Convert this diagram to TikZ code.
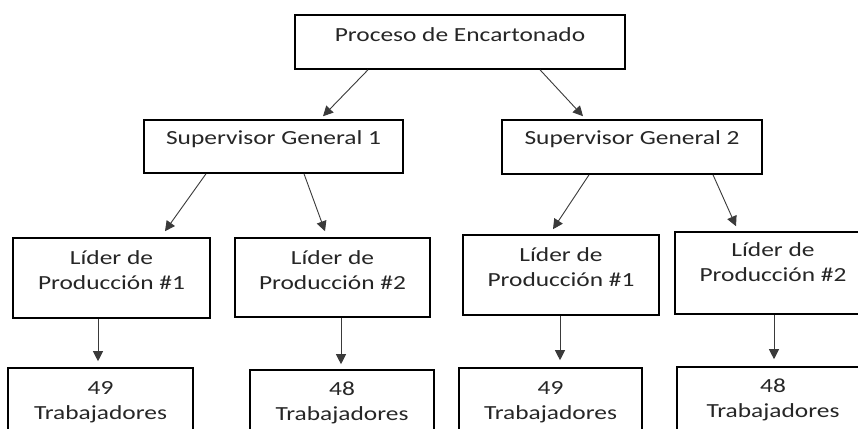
\documentclass[tikz,border=0pt]{standalone}
\usepackage{fontspec}
\setmainfont{Carlito}[FakeStretch=1.27]
\usetikzlibrary{arrows.meta}
\definecolor{txtgray}{HTML}{262626}
\definecolor{arrgray}{HTML}{3A3A3A}
\tikzset{
  box/.style={draw=black, line width=1.6pt, fill=white, inner sep=0pt},
  lbl/.style={anchor=north, inner sep=0pt, align=center, text=txtgray,
    font=\fontsize{20}{25.5}\selectfont},
  arr/.style={draw=arrgray, line width=0.9pt, -{Triangle[length=10pt,width=10pt]}}
}
\newcommand{\fst}{\rule{0pt}{16pt}}
\begin{document}
\begin{tikzpicture}[x=1pt,y=-1pt]
\useasboundingbox (0,0) rectangle (858,428);
\clip (0,0) rectangle (858,428);
\fill[white] (0,0) rectangle (858,428);
% boxes
\node[box, minimum width=330pt, minimum height=54pt] (top) at (460,42) {};
\node[box, minimum width=259pt, minimum height=53pt] (sup1) at (273.5,146.5) {};
\node[box, minimum width=260pt, minimum height=54pt] (sup2) at (632,147) {};
\node[box, minimum width=197pt, minimum height=80pt] (l1) at (111.5,278) {};
\node[box, minimum width=195pt, minimum height=79pt] (l2) at (332.5,277.5) {};
\node[box, minimum width=196pt, minimum height=80pt] (l3) at (561,275) {};
\node[box, minimum width=196pt, minimum height=82pt] (l4) at (773,273) {};
\node[box, minimum width=185pt, minimum height=80pt] (b1) at (100.5,408) {};
\node[box, minimum width=184pt, minimum height=80pt] (b2) at (342,410) {};
\node[box, minimum width=183pt, minimum height=80pt] (b3) at (550.5,408) {};
\node[box, minimum width=192pt, minimum height=80pt] (b4) at (773,407) {};
% texts
\node[lbl] (ttop) at ([yshift=-11pt]top.north) {\fst Proceso de Encartonado};
\node[lbl] (tsup1) at ([yshift=-9pt]sup1.north) {\fst Supervisor General 1};
\node[lbl] (tsup2) at ([yshift=-9pt]sup2.north) {\fst Supervisor General 2};
\node[lbl] (tl1) at ([yshift=-11pt]l1.north) {\fst Líder de\\Producción \#1};
\node[lbl] (tl2) at ([yshift=-11pt]l2.north) {\fst Líder de\\Producción \#2};
\node[lbl] (tl3) at ([yshift=-11pt]l3.north) {\fst Líder de\\Producción \#1};
\node[lbl] (tl4) at ([yshift=-9pt]l4.north) {\fst Líder de\\Producción \#2};
\node[lbl] (tb1) at ([yshift=-11pt]b1.north) {\fst 49\\Trabajadores};
\node[lbl] (tb2) at ([yshift=-10pt]b2.north) {\fst 48\\Trabajadores};
\node[lbl] (tb3) at ([yshift=-11pt]b3.north) {\fst 49\\Trabajadores};
\node[lbl] (tb4) at ([yshift=-10pt]b4.north) {\fst 48\\Trabajadores};
% arrows
\draw[arr] ([xshift=-92pt]top.south) -- ([xshift=49.5pt,yshift=3pt]sup1.north);
\draw[arr] ([xshift=80pt]top.south) -- ([xshift=-49pt,yshift=3pt]sup2.north);
\draw[arr] ([xshift=-67.5pt]sup1.south) -- ([xshift=53.5pt,yshift=6pt]l1.north);
\draw[arr] ([xshift=30.5pt]sup1.south) -- ([xshift=-7.5pt,yshift=6pt]l2.north);
\draw[arr] ([xshift=-43pt]sup2.south) -- ([xshift=-8pt,yshift=5pt]l3.north);
\draw[arr] ([xshift=81pt]sup2.south) -- ([xshift=-37pt,yshift=5pt]l4.north);
\draw[arr] ([xshift=-13.5pt]l1.south) -- ([xshift=-2.5pt,yshift=6pt]b1.north);
\draw[arr] ([xshift=8.5pt]l2.south) -- ([xshift=-1pt,yshift=5pt]b2.north);
\draw[arr] ([xshift=-1pt]l3.south) -- ([xshift=9.5pt,yshift=7pt]b3.north);
\draw[arr] ([xshift=1pt]l4.south) -- ([xshift=1pt,yshift=7pt]b4.north);
\end{tikzpicture}
\end{document}
